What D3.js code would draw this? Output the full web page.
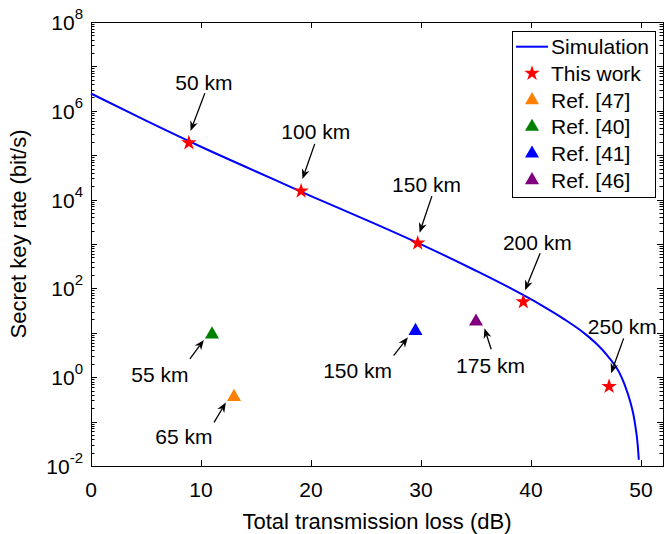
<!DOCTYPE html>
<html lang="en">
<head>
    <meta charset="UTF-8">
    <script src="https://cdn.jsdelivr.net/npm/d3@7"></script>
    <title>Secret key rate vs transmission loss</title>
    <style>
        html, body {
            margin: 0px;
            padding: 0px;
            background-color: #ffffff;
            font-family: "Liberation Sans", Arial, sans-serif;
        }
    </style>
</head>
<body>
    <div id="chart"></div>
    <script>
        // simulated curve
        const simLoss = [0, 5, 10, 15, 20, 25, 30, 35, 38, 41, 43, 45, 46, 47, 48, 48.5, 49, 49.3, 49.5, 49.7, 49.8];
        const simRate = [2.45e6, 6.0e5, 1.55e5, 4.3e4, 1.2e4, 3.5e3, 980, 250, 105, 41, 20.4, 9.1, 5.5, 2.95, 1.32, 0.69, 0.295, 0.148, 0.076, 0.030, 0.0138];

        // this work (stars)
        const workLoss = [8.9, 19.1, 29.7, 39.3, 47.1];
        const workRate = [1.9e5, 1.55e4, 1.05e3, 50, 0.62];

        // other references (triangles)
        const refNames = ["Ref. [47]", "Ref. [40]", "Ref. [41]", "Ref. [46]"];
        const refColors = ["#ff8000", "#008000", "#0000ff", "#800080"];
        const refLoss = [13.0, 11.0, 29.5, 35.0];
        const refRate = [0.36, 9.2, 11, 18];

        // distance labels with arrows, in data units
        const noteText = ["50 km", "100 km", "150 km", "200 km", "250 km", "55 km", "65 km", "150 km", "175 km"];
        const noteAt = [[10.26, 4.3e6], [20.43, 3.4e5], [30.5, 2.2e4], [40.58, 1.1e3], [48.3, 14],
                        [6.26, 1.17], [8.44, 0.046], [24.24, 1.4], [36.32, 1.88]];
        const arrowFrom = [[10.35, 2.5e6], [20.34, 1.8e5], [30.99, 1.2e4], [40.83, 620], [48.42, 7.5],
                           [8.99, 2.6], [11.19, 0.096], [27.51, 3.05], [36.38, 4.25]];
        const arrowTo = [[9.05, 3.5e5], [19.22, 2.9e4], [29.87, 1.8e3], [39.46, 91], [47.28, 1.22],
                         [10.26, 6.9], [12.26, 0.27], [28.81, 7.9], [35.77, 12.6]];

        const xTicks = [0, 10, 20, 30, 40, 50];
        const yLabelExp = [-2, 0, 2, 4, 6, 8];

        const width = 672, height = 534;
        const margin = {left: 91, top: 22, right: 9, bottom: 68};
        const iw = width - margin.left - margin.right;
        const ih = height - margin.top - margin.bottom;

        const svg = d3.select('#chart').append('svg')
            .attr('width', width).attr('height', height);
        const g = svg.append('g').attr('transform', `translate(${margin.left},${margin.top})`);

        const x = d3.scaleLinear().domain([0, 52]).range([0, iw]);
        const y = d3.scaleLog().domain([1e-2, 1e8]).range([ih, 0]);

        // ticks (inward, on all four sides)
        let minor = [];
        for (let e = -2; e < 8; e++) {
            for (let m = 1; m < 10; m++) minor.push(m * Math.pow(10, e));
        }
        minor.push(1e8);

        const ticks = g.append('g').attr('stroke', '#000').attr('stroke-width', 1);
        minor.forEach(v => {
            const len = Math.abs(Math.log10(v) % 1) < 1e-9 ? 6 : 3.5;
            const yy = Math.round(y(v)) + 0.5;
            ticks.append('line').attr('x1', 0).attr('x2', len).attr('y1', yy).attr('y2', yy);
            ticks.append('line').attr('x1', iw).attr('x2', iw - len).attr('y1', yy).attr('y2', yy);
        });
        xTicks.forEach(v => {
            const xx = Math.round(x(v)) + 0.5;
            ticks.append('line').attr('x1', xx).attr('x2', xx).attr('y1', ih).attr('y2', ih - 6);
            ticks.append('line').attr('x1', xx).attr('x2', xx).attr('y1', 0).attr('y2', 6);
        });

        g.append('rect')
            .attr('x', 0.5).attr('y', 0.5).attr('width', iw).attr('height', ih)
            .attr('fill', 'none').attr('stroke', '#000').attr('stroke-width', 1);

        // tick labels
        g.selectAll('.xl').data(xTicks).join('text')
            .attr('x', d => x(d)).attr('y', ih + 31)
            .attr('text-anchor', 'middle').attr('font-size', 21)
            .text(d => d);

        const yl = g.selectAll('.yl').data(yLabelExp).join('text')
            .attr('x', -8).attr('y', d => y(Math.pow(10, d)) + 8)
            .attr('text-anchor', 'end').attr('font-size', 21);
        yl.append('tspan').text('10');
        yl.append('tspan').attr('dy', -11).attr('font-size', 15).text(d => d);

        // axis titles
        g.append('text')
            .attr('x', iw / 2).attr('y', ih + 63)
            .attr('text-anchor', 'middle').attr('font-size', 22)
            .text('Total transmission loss (dB)');
        g.append('text')
            .attr('transform', `translate(${-65},${ih / 2 - 10}) rotate(-90)`)
            .attr('text-anchor', 'middle').attr('font-size', 22)
            .text('Secret key rate (bit/s)');

        // simulation curve
        const line = d3.line()
            .x(d => x(d[0])).y(d => y(d[1]))
            .curve(d3.curveMonotoneX);
        g.append('path')
            .datum(d3.zip(simLoss, simRate))
            .attr('d', line)
            .attr('fill', 'none').attr('stroke', '#0000ff').attr('stroke-width', 2);

        const star = d3.symbol().type(d3.symbolStar).size(75);
        const tri = d3.symbol().type(d3.symbolTriangle).size(85);

        g.selectAll('.ref').data(d3.range(refNames.length)).join('path')
            .attr('transform', i => `translate(${x(refLoss[i])},${y(refRate[i])})`)
            .attr('d', tri)
            .attr('fill', i => refColors[i]);

        g.selectAll('.work').data(d3.zip(workLoss, workRate)).join('path')
            .attr('transform', d => `translate(${x(d[0])},${y(d[1])})`)
            .attr('d', star)
            .attr('fill', '#ff0000');

        // annotations
        const notes = g.append('g');
        noteText.forEach((t, i) => {
            const x1 = x(arrowFrom[i][0]), y1 = y(arrowFrom[i][1]);
            const x2 = x(arrowTo[i][0]), y2 = y(arrowTo[i][1]);
            const a = Math.atan2(y2 - y1, x2 - x1);
            const hl = 10, hw = 4;
            const bx = x2 - hl * Math.cos(a), by = y2 - hl * Math.sin(a);
            const nx = -Math.sin(a), ny = Math.cos(a);
            const mx = x2 - hl * 0.7 * Math.cos(a), my = y2 - hl * 0.7 * Math.sin(a);
            notes.append('line')
                .attr('x1', x1).attr('y1', y1).attr('x2', mx).attr('y2', my)
                .attr('stroke', '#000').attr('stroke-width', 1.3);
            notes.append('path')
                .attr('d', `M${x2},${y2}L${bx + nx * hw},${by + ny * hw}L${mx},${my}L${bx - nx * hw},${by - ny * hw}Z`)
                .attr('fill', '#000');
            notes.append('text')
                .attr('x', x(noteAt[i][0])).attr('y', y(noteAt[i][1]) + 7.5)
                .attr('text-anchor', 'middle').attr('font-size', 21)
                .text(t);
        });

        // legend
        const lg = svg.append('g').attr('transform', 'translate(512,31)');
        lg.append('rect')
            .attr('x', 0.5).attr('y', 0.5).attr('width', 143).attr('height', 166)
            .attr('fill', '#fff').attr('stroke', '#000').attr('stroke-width', 1);
        const rowH = 26.7, row0 = 15.7;
        const labels = ['Simulation', 'This work'].concat(refNames);
        lg.selectAll('.lt').data(labels).join('text')
            .attr('x', 39).attr('y', (d, i) => row0 + i * rowH + 7.5)
            .attr('font-size', 21)
            .text(d => d);
        lg.append('line')
            .attr('x1', 4).attr('x2', 36).attr('y1', row0).attr('y2', row0)
            .attr('stroke', '#0000ff').attr('stroke-width', 2);
        lg.append('path')
            .attr('transform', `translate(20,${row0 + rowH})`)
            .attr('d', star).attr('fill', '#ff0000');
        refNames.forEach((n, i) => {
            lg.append('path')
                .attr('transform', `translate(20,${row0 + (i + 2) * rowH})`)
                .attr('d', tri).attr('fill', refColors[i]);
        });
    </script>
</body>
</html>
